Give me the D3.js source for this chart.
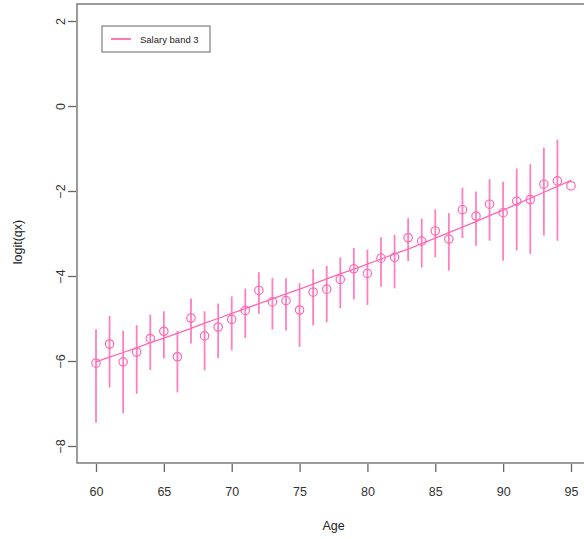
<!DOCTYPE html>
<html>
<head>
<meta charset="utf-8">
<script src="https://cdn.jsdelivr.net/npm/d3@7"></script>
<style>
  body { margin: 0; background: #fff; }
  text { font-family: "Liberation Sans", Arial, sans-serif; }
</style>
</head>
<body>
<div id="graph"></div>
<script>
// observed logit(qx) by age, with interval bounds, and the fitted curve
var ages = [60,61,62,63,64,65,66,67,68,69,70,71,72,73,74,75,76,77,78,79,80,81,82,83,84,85,86,87,88,89,90,91,92,93,94,95];
var observed = [-6.05,-5.60,-6.02,-5.79,-5.47,-5.30,-5.90,-4.99,-5.41,-5.20,-5.02,-4.81,-4.34,-4.61,-4.58,-4.80,-4.38,-4.31,-4.08,-3.83,-3.94,-3.58,-3.56,-3.10,-3.18,-2.94,-3.13,-2.44,-2.59,-2.31,-2.51,-2.24,-2.20,-1.84,-1.76,-1.88];
var upper = [-5.25,-4.94,-5.29,-5.16,-4.91,-4.83,-5.29,-4.53,-4.83,-4.65,-4.48,-4.30,-3.91,-4.05,-4.05,-4.17,-3.84,-3.76,-3.56,-3.34,-3.38,-3.09,-3.03,-2.64,-2.65,-2.43,-2.52,-1.92,-2.01,-1.72,-1.78,-1.47,-1.37,-0.98,-0.79,null];
var lower = [-7.45,-6.62,-7.23,-6.77,-6.21,-5.94,-6.74,-5.59,-6.22,-5.93,-5.75,-5.46,-4.89,-5.26,-5.28,-5.67,-5.16,-5.09,-4.76,-4.55,-4.68,-4.25,-4.29,-3.65,-3.80,-3.56,-3.87,-3.11,-3.29,-3.17,-3.64,-3.40,-3.48,-3.05,-3.17,null];
var fitted = [-6.02,-5.91,-5.80,-5.69,-5.57,-5.46,-5.35,-5.23,-5.11,-5.00,-4.88,-4.77,-4.65,-4.54,-4.42,-4.31,-4.19,-4.07,-3.95,-3.84,-3.72,-3.60,-3.48,-3.37,-3.24,-3.11,-2.98,-2.85,-2.72,-2.58,-2.45,-2.31,-2.17,-2.03,-1.89,-1.75];
var xTicks = [60,65,70,75,80,85,90,95];
var yTicks = [-8,-6,-4,-2,0,2];
var seriesName = "Salary band 3";

var width = 584, height = 539,
    margin = {"top": 4, "left": 77, "bottom": 76};

var pink = "#ff69b4", axisCol = "#666";

var svg = d3.select("#graph").append("svg")
    .attr("width", width)
    .attr("height", height);

var x = d3.scaleLinear().domain([58.6, 96.4]).range([margin.left, 590]);
var y = d3.scaleLinear().domain([-8.4, 2.4]).range([height - margin.bottom, margin.top]);

var rows = ages.map((a, i) => ({age: a, obs: observed[i], hi: upper[i], lo: lower[i], fit: fitted[i]}));

// plot frame
svg.append("rect")
    .attr("x", x(58.6)).attr("y", y(2.4))
    .attr("width", x(96.4) - x(58.6)).attr("height", y(-8.4) - y(2.4))
    .attr("fill", "none").attr("stroke", axisCol).attr("stroke-width", 1.3);

// x axis
var gx = svg.append("g")
    .attr("transform", "translate(0," + (y(-8.4) + 1) + ")")
    .call(d3.axisBottom(x).tickValues(xTicks).tickSize(8).tickPadding(15));
gx.select(".domain").remove();
gx.selectAll("line").attr("stroke", axisCol).attr("stroke-width", 1.3);
gx.selectAll("text").attr("fill", "#333").style("font-size", "12.5px");

// y axis, labels turned parallel to the axis
var gy = svg.append("g")
    .attr("transform", "translate(" + (x(58.6) - 1) + ",0)")
    .call(d3.axisLeft(y).tickValues(yTicks).tickSize(8).tickFormat(d => d < 0 ? "\u2212" + Math.abs(d) : d));
gy.select(".domain").remove();
gy.selectAll("line").attr("stroke", axisCol).attr("stroke-width", 1.3);
gy.selectAll("text")
    .attr("fill", "#333").style("font-size", "12.5px")
    .attr("x", 0).attr("dy", 0)
    .attr("text-anchor", "middle")
    .attr("transform", "translate(-11,0) rotate(-90)");

// axis titles
svg.append("text")
    .attr("x", x(77.5)).attr("y", 530)
    .attr("text-anchor", "middle").attr("fill", "#222")
    .style("font-size", "12.5px").text("Age");
svg.append("text")
    .attr("transform", "translate(22," + y(-3.2) + ") rotate(-90)")
    .attr("text-anchor", "middle").attr("fill", "#222")
    .style("font-size", "12.5px").text("logit(qx)");

// interval bars
svg.selectAll(".bar")
    .data(rows.filter(d => d.hi != null))
  .enter().append("line")
    .attr("class", "bar")
    .attr("x1", d => x(d.age)).attr("x2", d => x(d.age))
    .attr("y1", d => y(d.hi)).attr("y2", d => y(d.lo))
    .attr("stroke", pink).attr("stroke-width", 1.8).attr("stroke-opacity", 0.85);

// fitted curve
svg.append("path")
    .datum(rows)
    .attr("d", d3.line().x(d => x(d.age)).y(d => y(d.fit)))
    .attr("fill", "none").attr("stroke", pink).attr("stroke-width", 1.3);

// observed points
svg.selectAll(".pt")
    .data(rows)
  .enter().append("circle")
    .attr("class", "pt")
    .attr("cx", d => x(d.age)).attr("cy", d => y(d.obs))
    .attr("r", 4.2)
    .attr("fill", "none").attr("stroke", pink).attr("stroke-width", 1.2);

// legend
var lg = svg.append("g");
lg.append("rect")
    .attr("x", 102).attr("y", 26).attr("width", 108).attr("height", 26)
    .attr("fill", "#fff").attr("stroke", axisCol).attr("stroke-width", 1);
lg.append("line")
    .attr("x1", 111).attr("x2", 131).attr("y1", 39).attr("y2", 39)
    .attr("stroke", pink).attr("stroke-width", 1.8);
lg.append("text")
    .attr("x", 140).attr("y", 42.5)
    .attr("fill", "#222").style("font-size", "9.5px")
    .text(seriesName);
</script>
</body>
</html>
